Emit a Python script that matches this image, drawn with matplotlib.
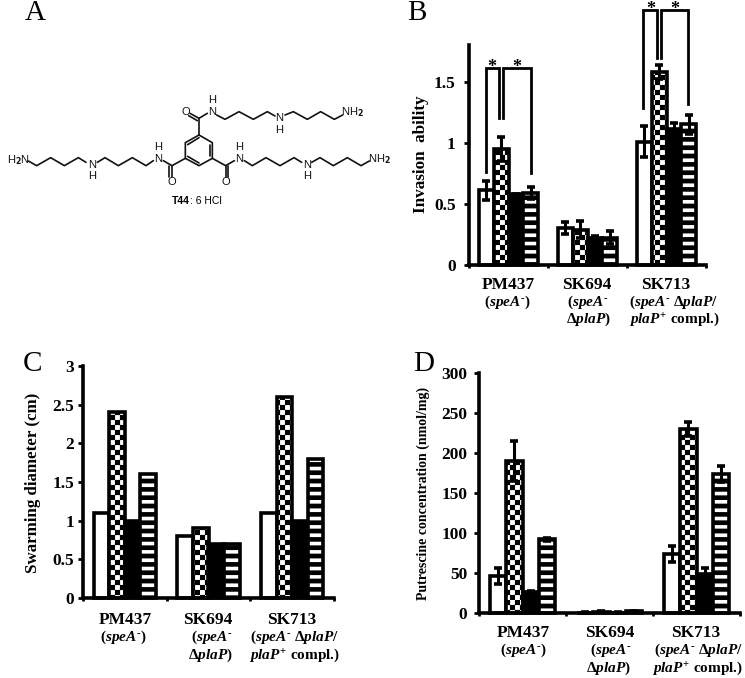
import numpy as np
import matplotlib
matplotlib.use('Agg')
import matplotlib.pyplot as plt
import matplotlib.hatch as mhatch
from matplotlib.path import Path

W, H = 745, 678

# values, rows are white, checker, black, striped
invasion = [[0.61, 0.30, 1.01], [0.95, 0.29, 1.58], [0.58, 0.22, 1.11], [0.59, 0.225, 1.15]]
invasion_err = [[0.08, 0.05, 0.13], [0.10, 0.07, 0.06], [0.005, 0.02, 0.05], [0.05, 0.05, 0.08]]
swarming = [[1.1, 0.8, 1.1], [2.4, 0.9, 2.6], [1.0, 0.7, 1.0], [1.6, 0.7, 1.8]]
putrescine = [[46, 0.5, 74], [190, 1.5, 230], [26, 0.5, 49], [92, 2, 174]]
putrescine_err = [[10, 0.3, 10], [25, 0.5, 9], [2, 0.3, 7], [2, 0.5, 10]]

strains = ['PM437', 'SK694', 'SK713']
genotype_1 = [r'($\mathit{speA}^{\text{-}}$)', r'($\mathit{speA}^{\text{-}}$',
              r'($\mathit{speA}^{\text{-}}$ Δ$\mathit{plaP}$/']
genotype_2 = [r'Δ$\mathit{plaP}$)', r'$\mathit{plaP}^{+}$ compl.)']

plt.rcParams['font.family'] = 'Liberation Serif'
plt.rcParams['font.weight'] = 'bold'
plt.rcParams['mathtext.fontset'] = 'custom'
plt.rcParams['mathtext.rm'] = 'Liberation Serif:bold'
plt.rcParams['mathtext.it'] = 'Liberation Serif:italic:bold'
plt.rcParams['mathtext.bf'] = 'Liberation Serif:bold'
plt.rcParams['hatch.linewidth'] = 0.1


# filled hatches, the stock ones can't do a checker board
class Tiles(mhatch.HatchPatternBase):
    char = ''
    rects = []

    def __init__(self, hatch, density):
        self.on = hatch.count(self.char) > 0
        self.num_vertices = 5 * len(self.rects) if self.on else 0

    def set_vertices_and_codes(self, vertices, codes):
        for i, (x0, y0, x1, y1) in enumerate(self.rects):
            vertices[i * 5:(i + 1) * 5] = [(x0, y0), (x1, y0), (x1, y1), (x0, y1), (x0, y0)]
            codes[i * 5:(i + 1) * 5] = [Path.MOVETO, Path.LINETO, Path.LINETO, Path.LINETO, Path.CLOSEPOLY]


class Checker(Tiles):
    char = 'x'
    rects = [(i / 20, j / 20, (i + 1) / 20, (j + 1) / 20)
             for i in range(20) for j in range(20) if (i + j) % 2 == 0]


class Stripes(Tiles):
    char = '-'
    rects = [(0, i / 12, 1, (i + 0.55) / 12) for i in range(12)]


mhatch._hatch_types[:] = [Checker, Stripes]

fig = plt.figure(figsize=(W / 100, H / 100), dpi=100)


def ftext(x, y, s, **kw):
    kw.setdefault('ha', 'center')
    kw.setdefault('va', 'center')
    return fig.text(x / W, 1 - y / H, s, **kw)


def bar_panel(left, right, top, bottom, values, yticks, ymax, pad, errors=None):
    ax = fig.add_axes([left / W, 1 - bottom / H, (right - left) / W, (bottom - top) / H])
    styles = [dict(facecolor='white'), dict(facecolor='white', hatch='x'),
              dict(facecolor='black'), dict(facecolor='white', hatch='-')]
    x = np.arange(3)
    width = 0.187
    for i in range(4):
        ax.bar(x + (i - 1.5) * width, values[i], width, edgecolor='black', linewidth=2.6,
               clip_on=False, **styles[i])
        if errors is not None:
            ax.errorbar(x + (i - 1.5) * width, values[i], yerr=errors[i], fmt='none', ecolor='black',
                        elinewidth=2.2, capsize=3.2, capthick=2.6, zorder=5, clip_on=False)
    ax.set_xlim(-0.5, 2.5)
    ax.set_ylim(0, ymax)
    ax.set_yticks(yticks)
    ax.set_yticklabels([f'{t:g}' for t in yticks], fontsize=12.5, fontweight='bold')
    ax.set_xticks([-0.5, 0.5, 1.5, 2.5])
    ax.set_xticklabels([])
    ax.tick_params(axis='y', width=2, length=3.5, pad=pad)
    ax.tick_params(axis='x', width=2, length=2.5)
    for s in ['top', 'right']:
        ax.spines[s].set_visible(False)
    for s in ['left', 'bottom']:
        ax.spines[s].set_linewidth(2.6)
    return ax


# panel B
ax_b = bar_panel(469, 706, 45, 265, invasion, [0, 0.5, 1, 1.5], 1.8, 6, invasion_err)
for xs, ys in [([-0.289, -0.289, -0.12, -0.12], [0.764, 1.614, 1.614, 1.2]),
               ([-0.074, -0.074, 0.28, 0.28], [1.2, 1.614, 1.614, 0.75]),
               ([1.707, 1.707, 1.876, 1.876], [1.282, 2.086, 2.086, 1.69]),
               ([1.926, 1.926, 2.276, 2.276], [1.69, 2.086, 2.086, 1.317])]:
    ax_b.plot(xs, ys, color='black', lw=2.0, clip_on=False, solid_joinstyle='miter', zorder=6)
for sx, sy in [(492, 67), (517, 67), (651, 9), (675, 9)]:
    ftext(sx, sy, '*', fontsize=13)
ftext(421, 154, 'Invasion  ability', rotation=90, fontsize=12.3)
bar_panel(83, 334, 366, 598, swarming, [0, 0.5, 1, 1.5, 2, 2.5, 3], 3, 3)
ftext(33, 483, 'Swarming diameter (cm)', rotation=90, fontsize=12.2)
bar_panel(479, 740, 373, 613, putrescine, list(range(0, 301, 50)), 300, 5, putrescine_err)
ftext(423, 493, 'Putrescine concentration (nmol/mg)', rotation=90, fontsize=10)

# group labels, pixel centres per panel
label_pos = [
    ([508, 587, 666], 285, [507, 588, 674], 302, [588, 675], 319),
    ([125, 208, 292], 620, [123, 212, 295], 637, [210, 295], 655),
    ([523, 610, 696], 633, [523, 611, 699], 650, [608, 698], 668),
]
for name_x, name_y, g1_x, g1_y, g2_x, g2_y in label_pos:
    for nx, name in zip(name_x, strains):
        ftext(nx, name_y, name, fontsize=12.5)
    for gx, g in zip(g1_x, genotype_1):
        ftext(gx, g1_y, g, fontsize=11)
    for gx, g in zip(g2_x, genotype_2):
        ftext(gx, g2_y, g, fontsize=11)

# panel letters
for letter, lx, ly in [('A', 35, 13), ('B', 417, 13), ('C', 33, 364), ('D', 424, 364)]:
    ftext(lx, ly, letter, fontsize=21, fontweight='normal')

# panel A, the T44 structure, zoomed coordinates / 3
mol = fig.add_axes([0, 0, 1, 1], zorder=-1)
mol.set_xlim(0, W)
mol.set_ylim(H, 0)
mol.axis('off')
bonds = [
    [(597, 405), (637, 428), (637, 475), (597, 497), (556, 475), (556, 428), (597, 405)],
    [(630, 434), (630, 469)], [(563, 469), (597, 489)], [(563, 434), (597, 413)],
    [(597, 405), (597, 355), (622, 340)], [(597, 355), (570, 340)], [(592, 362), (566, 347)],
    [(650, 345), (675, 358), (717, 335), (760, 358), (802, 335), (825, 348)],
    [(855, 345), (880, 335), (922, 358), (962, 335), (1003, 358), (1028, 345)],
    [(556, 475), (516, 497), (490, 482)], [(516, 497), (516, 530)], [(508, 497), (508, 530)],
    [(460, 482), (438, 497), (397, 473), (355, 497), (315, 473), (292, 487)],
    [(258, 487), (235, 473), (193, 497), (152, 473), (110, 497), (85, 483)],
    [(637, 475), (677, 497), (703, 482)], [(677, 497), (677, 530)], [(685, 497), (685, 530)],
    [(733, 482), (757, 497), (798, 473), (840, 497), (882, 473), (905, 487)],
    [(935, 487), (960, 473), (1000, 497), (1042, 473), (1083, 497), (1108, 483)],
]
for b in bonds:
    pts = np.array(b) / 3
    mol.plot(pts[:, 0], pts[:, 1], color='#111111', lw=1.2, solid_capstyle='round')
atoms = [('O', 557, 335), ('N', 637, 337), ('H', 637, 301), ('N', 838, 355), ('H', 838, 389),
         ('NH$_2$', 1058, 337), ('O', 516, 545), ('N', 475, 477), ('H', 475, 441),
         ('N', 275, 495), ('H', 275, 529), ('H$_2$N', 55, 480), ('O', 677, 545),
         ('N', 717, 477), ('H', 717, 441), ('N', 920, 495), ('H', 920, 529), ('NH$_2$', 1138, 477)]
for a, ax_, ay in atoms:
    mol.text(ax_ / 3, ay / 3, a, ha='center', va='center', fontsize=8, family='Liberation Sans',
             weight='normal', color='#111111', math_fontfamily='dejavusans')
mol.text(181, 201, 'T44', ha='center', va='center', fontsize=7.5, family='Liberation Sans', weight='bold')
mol.text(189.5, 201, ': 6 HCl', ha='left', va='center', fontsize=7.5, family='Liberation Sans', weight='normal')

fig.savefig('out.png', dpi=100)
